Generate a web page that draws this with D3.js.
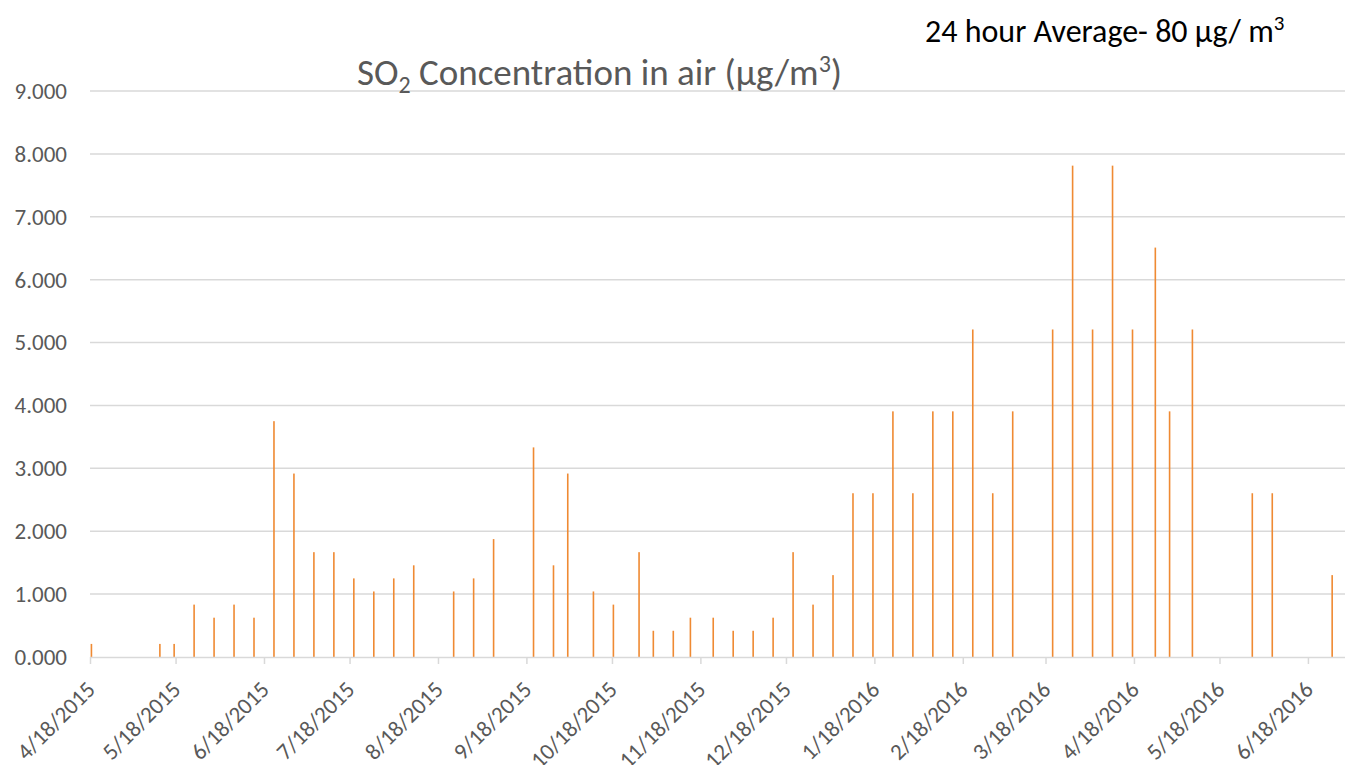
<!DOCTYPE html>
<html>
<head>
<meta charset="utf-8">
<script src="https://cdn.jsdelivr.net/npm/d3@7"></script>
<style>
  html, body { margin: 0; padding: 0; background: #fff; }
  svg { display: block; font-family: Carlito, Calibri, 'Open Sans', sans-serif; }
</style>
</head>
<body>
<div class="container"></div>
<script>
// sample dates (weekly-ish readings)
const sampleDates = [
    '4/18/2015', '5/12/2015', '5/17/2015', '5/24/2015', '5/31/2015', '6/7/2015', '6/14/2015',
    '6/21/2015', '6/28/2015', '7/5/2015', '7/12/2015', '7/19/2015', '7/26/2015', '8/2/2015',
    '8/9/2015', '8/23/2015', '8/30/2015', '9/6/2015', '9/20/2015', '9/27/2015', '10/2/2015',
    '10/11/2015', '10/18/2015', '10/27/2015', '11/1/2015', '11/8/2015', '11/14/2015', '11/22/2015',
    '11/29/2015', '12/6/2015', '12/13/2015', '12/20/2015', '12/27/2015', '1/3/2016', '1/10/2016',
    '1/17/2016', '1/24/2016', '1/31/2016', '2/7/2016', '2/14/2016', '2/21/2016', '2/28/2016',
    '3/6/2016', '3/20/2016', '3/27/2016', '4/3/2016', '4/10/2016', '4/17/2016', '4/25/2016',
    '4/30/2016', '5/8/2016', '5/29/2016', '6/5/2016', '6/26/2016'
];

// SO2 concentration (ug/m3)
const so2Values = [
    0.208, 0.208, 0.208, 0.833, 0.625, 0.833, 0.625,
    3.750, 2.917, 1.667, 1.667, 1.250, 1.042, 1.250,
    1.458, 1.042, 1.250, 1.875, 3.333, 1.458, 2.917,
    1.042, 0.833, 1.667, 0.417, 0.417, 0.625, 0.625,
    0.417, 0.417, 0.625, 1.667, 0.833, 1.302, 2.604,
    2.604, 3.906, 2.604, 3.906, 3.906, 5.208, 2.604,
    3.906, 5.208, 7.813, 5.208, 7.813, 5.208, 6.510,
    3.906, 5.208, 2.604, 2.604, 1.302
];

const xTickLabels = [
    '4/18/2015', '5/18/2015', '6/18/2015', '7/18/2015', '8/18/2015', '9/18/2015', '10/18/2015',
    '11/18/2015', '12/18/2015', '1/18/2016', '2/18/2016', '3/18/2016', '4/18/2016', '5/18/2016',
    '6/18/2016'
];
const xDomain = ['4/18/2015', '7/1/2016'];
const yTicks = [0, 1, 2, 3, 4, 5, 6, 7, 8, 9];

const width = 1345, height = 765;
const font = "Carlito, Calibri, 'Open Sans', sans-serif";
const parse = d3.timeParse('%m/%d/%Y');

const x = d3.scaleTime()
    .domain(xDomain.map(parse))
    .range([90, 1345]);

const y = d3.scaleLinear()
    .domain([0, 9])
    .range([657, 91]);

const svg = d3.select('.container')
    .append('svg')
    .attr('width', width)
    .attr('height', height);

// horizontal gridlines
svg.append('g')
    .selectAll('line')
    .data(yTicks.slice(1))
    .join('line')
    .attr('x1', 90)
    .attr('x2', width)
    .attr('y1', d => y(d))
    .attr('y2', d => y(d))
    .attr('stroke', '#d9d9d9')
    .attr('stroke-width', 1.5);

// y axis labels
const yAxis = svg.append('g')
    .attr('transform', 'translate(90,0)')
    .call(d3.axisLeft(y).tickValues(yTicks).tickSize(0).tickPadding(23).tickFormat(d3.format('.3f')));
yAxis.select('.domain').remove();
yAxis.selectAll('text')
    .attr('fill', '#595959')
    .style('font-size', '23px')
    .style('font-family', font);

// bars: one thin column per sample, placed mid-day on the date axis
const data = sampleDates.map((d, i) => ({ date: d3.timeHour.offset(parse(d), 12), value: so2Values[i] }));

svg.append('g')
    .selectAll('rect')
    .data(data)
    .join('rect')
    .attr('x', d => x(d.date) - 0.8)
    .attr('width', 1.6)
    .attr('y', d => y(d.value))
    .attr('height', d => y(0) - y(d.value))
    .attr('fill', '#EF8A33');

// x axis
const xAxis = svg.append('g')
    .attr('transform', `translate(0,${y(0)})`)
    .call(d3.axisBottom(x)
        .tickValues(xTickLabels.map(parse))
        .tickSize(7)
        .tickSizeOuter(0)
        .tickFormat(d3.timeFormat('%-m/%-d/%Y')));
xAxis.select('.domain').attr('stroke', '#d9d9d9').attr('stroke-width', 1.5);
xAxis.selectAll('.tick line').attr('stroke', '#d9d9d9').attr('stroke-width', 1.5);
xAxis.selectAll('text')
    .attr('fill', '#595959')
    .style('font-size', '23px')
    .style('font-family', font)
    .attr('text-anchor', 'end')
    .attr('dy', 0)
    .attr('y', 0)
    .attr('transform', 'translate(6,34) rotate(-45)');

// title
const title = svg.append('text')
    .attr('x', 357)
    .attr('y', 85)
    .attr('fill', '#595959')
    .style('font-size', '37px');
title.append('tspan').text('SO');
title.append('tspan').attr('dy', 8).style('font-size', '24px').text('2');
title.append('tspan').attr('dy', -8).text(' Concentration in air (µg/m');
title.append('tspan').attr('dy', -13).style('font-size', '24px').text('3');
title.append('tspan').attr('dy', 13).text(')');

// standard note
const note = svg.append('text')
    .attr('x', 925)
    .attr('y', 42)
    .attr('fill', '#000')
    .style('font-size', '32px');
note.append('tspan').text('24 hour Average- 80 µg/ m');
note.append('tspan').attr('dy', -12).style('font-size', '21px').text('3');
</script>
</body>
</html>
